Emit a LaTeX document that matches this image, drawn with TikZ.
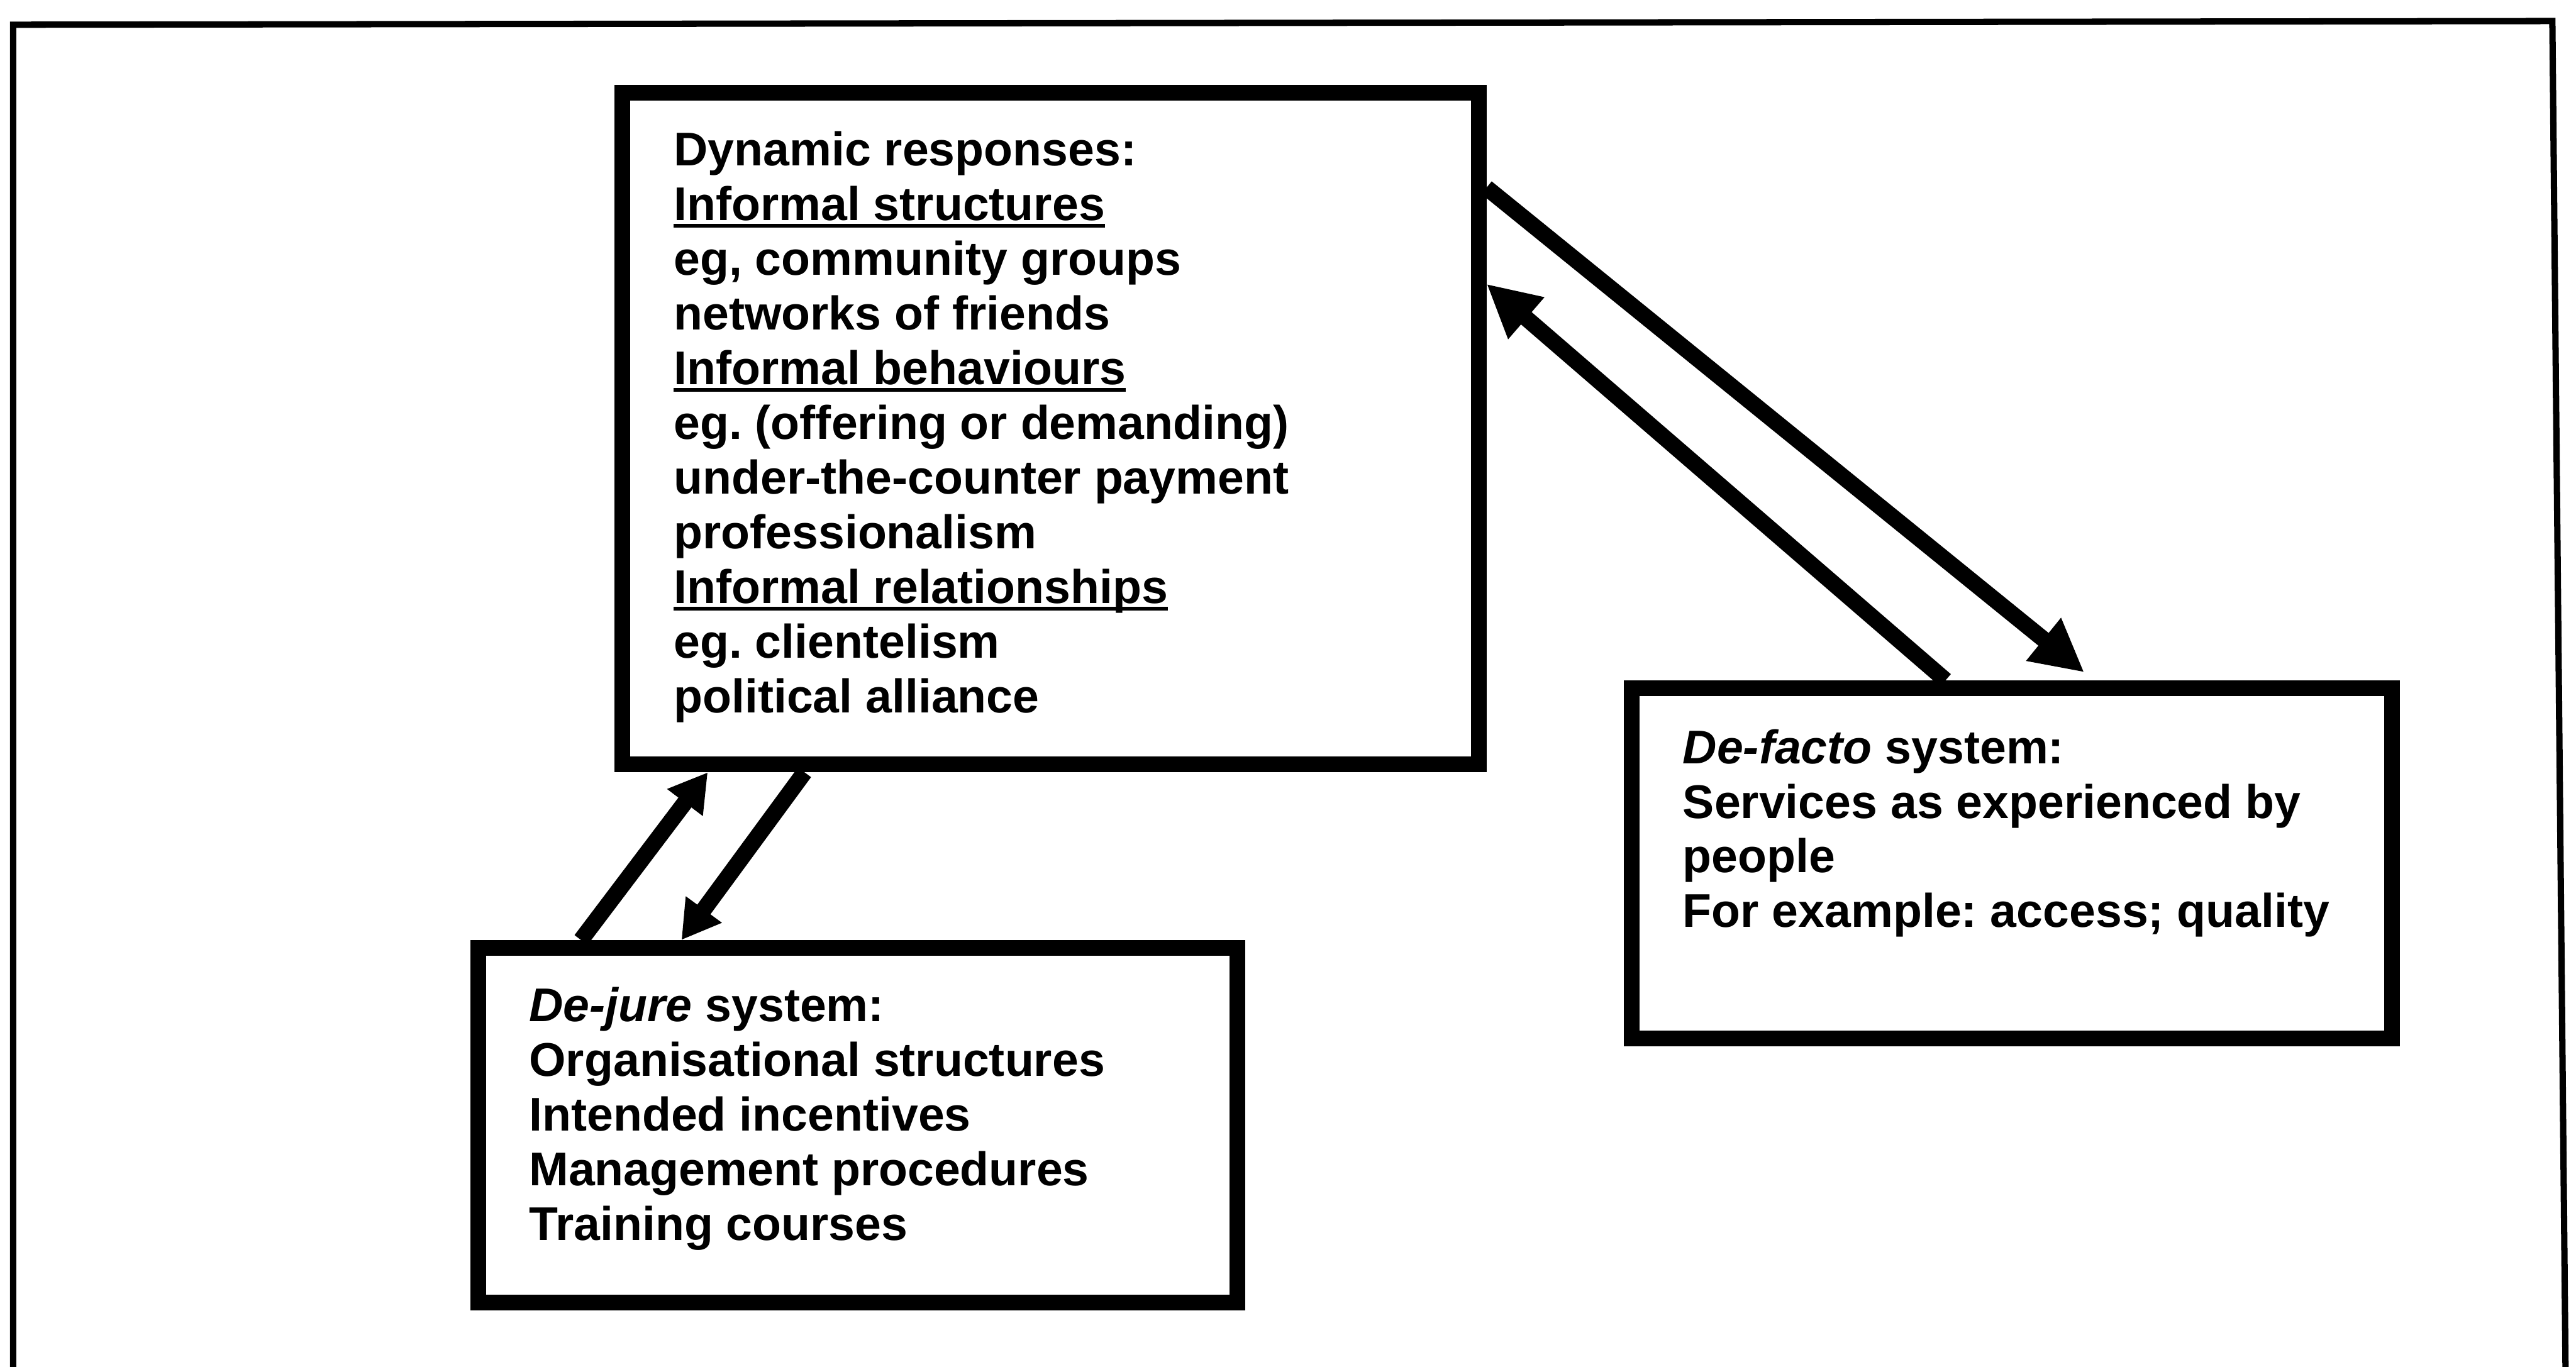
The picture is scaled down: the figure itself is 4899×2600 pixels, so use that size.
\documentclass[tikz,border=0pt]{standalone}
\usepackage{fontspec}
\setmainfont{Liberation Sans}
\usetikzlibrary{arrows.meta,calc}
\newcommand{\myul}[1]{\leavevmode\setbox0\hbox{#1}\rlap{\rule[-0.72mm]{\wd0}{0.4mm}}\box0}
\frenchspacing
\begin{document}
\begin{tikzpicture}[x=0.05mm,y=-0.05mm,
  sysbox/.style={draw=black, line width=1.5mm, rectangle, inner sep=0pt, fill=none},
  txt/.style={anchor=base west, inner sep=0pt, font=\fontsize{12.8pt}{14.8pt}\selectfont\bfseries},
  bigarrow/.style={line width=1.55mm, -{Triangle[length=5mm,width=4.9mm]}},
  smallarrow/.style={line width=1.55mm, -{Triangle[length=3.6mm,width=4mm]}}]
\useasboundingbox (0,0) rectangle (4899,2600);
% outer frame (bottom edge lies outside the picture)
\draw[line width=0.6mm] (25,2700) -- (25,47) -- (4854,40) -- (4880,2700);
% boxes
\node[sysbox, minimum width=81.4mm, minimum height=63.9mm] (dyn) at (1998,815) {};
\node[sysbox, minimum width=72.15mm, minimum height=33.75mm] (dejure) at (1631.5,2140.5) {};
\node[sysbox, minimum width=72.3mm, minimum height=33.3mm] (defacto) at (3826,1642) {};
% texts
\node[txt] (dyntext) at (1280,315) {\parbox[t]{75mm}{\raggedright\frenchspacing
Dynamic responses:\\
\myul{Informal structures}\\
eg, community groups\\
networks of friends\\
\myul{Informal behaviours}\\
eg. (offering or demanding)\\
under-the-counter payment\\
professionalism\\
\myul{Informal relationships}\\
eg. clientelism\\
political alliance}};
\node[txt] (dejuretext) at (1005,1943) {\parbox[t]{68mm}{\raggedright\frenchspacing
\textit{De-jure} system:\\
Organisational structures\\
Intended incentives\\
Management procedures\\
Training courses}};
\node[txt] (defactotext) at (3199,1452) {\parbox[t]{68mm}{\raggedright\frenchspacing
\textit{De-facto} system:\\
Services as experienced by\\
people\\
For example: access; quality}};
% connectors
\draw[bigarrow] ($(dyn.north east)+(0,196)$) -- ($(defacto.north west)+(876,-15)$);
\draw[bigarrow] ($(defacto.north west)+(612,0)$) -- ($(dyn.north east)+(0,379)$);
\draw[smallarrow] ($(dejure.north west)+(210,0)$) -- ($(dyn.south west)+(177,0)$);
\draw[smallarrow] ($(dyn.south west)+(361,0)$) -- ($(dejure.north west)+(401,0)$);
\end{tikzpicture}
\end{document}
